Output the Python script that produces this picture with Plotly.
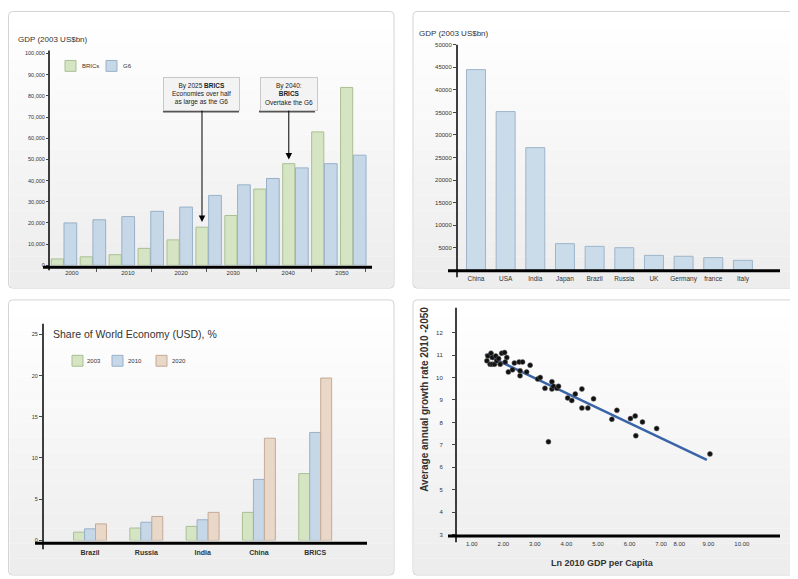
import plotly.graph_objects as go

# page body adds an 8px margin, so the figure is placed 8px in from the top-left corner
OFF = 8
W, H = 798 - OFF, 579 - OFF
def fx(px): return (px - OFF) / W
def fy(py): return 1 - (py - OFF) / H

# ---------------- data ----------------
years = [2000, 2005, 2010, 2015, 2020, 2025, 2030, 2035, 2040, 2045, 2050]
brics_gdp = [3000, 4000, 5000, 8000, 12000, 18000, 23500, 36000, 48000, 63000, 84000]
g6_gdp = [20000, 21500, 23000, 25500, 27500, 33000, 38000, 41000, 46000, 48000, 52000]
year_labels = ["2000", "2010", "2020", "2030", "2040", "2050"]

countries_2050 = ["China", "USA", "India", "Japan", "Brazil", "Russia", "UK", "Germany", "france", "Italy"]
gdp_2050 = [44500, 35200, 27200, 5900, 5300, 5000, 3300, 3100, 2800, 2200]

share_cats = ["Brazil", "Russia", "India", "China", "BRICS"]
share_2003 = [1.0, 1.5, 1.7, 3.4, 8.1]
share_2010 = [1.4, 2.2, 2.5, 7.4, 13.1]
share_2020 = [2.0, 2.9, 3.4, 12.4, 19.7]

ln_gdp_pc = [1.48, 1.51, 1.58, 1.61, 1.65, 1.65, 1.72, 1.76, 1.79, 1.85, 1.90, 1.95, 2.04, 2.06, 2.11,
             2.16, 2.29, 2.35, 2.50, 2.53, 2.53, 2.61, 2.74, 2.85, 3.09, 3.17, 3.32, 3.43, 3.54, 3.54,
             3.59, 3.70, 3.75, 4.04, 4.17, 4.28, 4.49, 4.49, 4.68, 4.86, 5.44, 5.60, 6.03, 6.18, 6.20,
             6.41, 6.86, 8.55]
growth = [10.74, 10.96, 10.59, 11.08, 10.89, 10.59, 10.59, 10.96, 10.74, 10.84, 10.59, 11.08, 11.11, 10.69, 10.89,
          10.25, 10.34, 10.64, 10.69, 10.30, 10.08, 10.69, 10.25, 10.55, 9.93, 10.0, 9.52, 7.14, 9.81, 9.49,
          9.61, 9.52, 9.61, 9.09, 8.98, 9.27, 9.49, 8.64, 8.64, 9.05, 8.14, 8.54, 8.17, 8.29, 7.41,
          8.02, 7.73, 6.60]
trend_x = [1.42, 8.45]
trend_y = [11.03, 6.33]
p4_tickvals = [1, 2, 3, 4, 5, 6, 7, 7.58, 8.5, 9.56]
p4_ticktext = ["1.00", "2.00", "3.00", "4.00", "5.00", "6.00", "7.00", "8.00", "9.00", "10.00"]

# ---------------- styles ----------------
FONT = "Liberation Sans, Arial, sans-serif"
TXT = "#333333"
GREEN, GREEN_L = "#d5e5c3", "#a9bf93"
BLUE, BLUE_L = "#c6d8e8", "#98b0c8"
TAN, TAN_L = "#e9d7c8", "#c4aa96"

fig = go.Figure()

# Panel 1 bars
fig.add_trace(go.Bar(x=years, y=brics_gdp, offset=-2.15, width=2.1, marker=dict(color=GREEN, line=dict(color=GREEN_L, width=1)),
                     xaxis="x", yaxis="y", showlegend=False, name="BRICs"))
fig.add_trace(go.Bar(x=years, y=g6_gdp, offset=0.05, width=2.2, marker=dict(color=BLUE, line=dict(color=BLUE_L, width=1)),
                     xaxis="x", yaxis="y", showlegend=False, name="G6"))
# Panel 2 bars
fig.add_trace(go.Bar(x=countries_2050, y=gdp_2050, offset=-0.32, width=0.64,
                     marker=dict(color="#cadbe9", line=dict(color="#9fb5ca", width=1)),
                     xaxis="x2", yaxis="y2", showlegend=False, name="GDP 2050"))
# Panel 3 bars
for vals, off, c, cl, nm in [(share_2003, -0.2925, GREEN, GREEN_L, "2003"),
                             (share_2010, -0.0975, BLUE, BLUE_L, "2010"),
                             (share_2020, 0.0975, TAN, TAN_L, "2020")]:
    fig.add_trace(go.Bar(x=share_cats, y=vals, offset=off, width=0.195,
                         marker=dict(color=c, line=dict(color=cl, width=1)),
                         xaxis="x3", yaxis="y3", showlegend=False, name=nm))
# Panel 4 scatter + trend
fig.add_trace(go.Scatter(x=trend_x, y=trend_y, mode="lines", line=dict(color="#3a64a8", width=2.5),
                         xaxis="x4", yaxis="y4", showlegend=False))
fig.add_trace(go.Scatter(x=ln_gdp_pc, y=growth, mode="markers",
                         marker=dict(color="#111111", size=5, line=dict(color="#666666", width=0.5)),
                         xaxis="x4", yaxis="y4", showlegend=False))

tf = dict(family=FONT, size=6, color=TXT)
common = dict(showgrid=False, zeroline=False, showline=False)

layout = dict(
    width=W, height=H, margin=dict(l=0, r=0, t=0, b=0), autosize=False,
    paper_bgcolor="white", plot_bgcolor="rgba(0,0,0,0)", barmode="overlay",
    font=dict(family=FONT, color=TXT),
    # Panel 1
    xaxis=dict(domain=[fx(49), fx(372)], range=[1997.46, 2053.28], anchor="y",
               tickmode="array", tickvals=[2001.4, 2011.1, 2020.3, 2029.3, 2038.8, 2048.1], ticktext=year_labels,
               ticks="", tickfont=tf, ticklabelstandoff=3,
               minor=dict(tickvals=[2005.75, 2015.1, 2024.6, 2033.4, 2042.9, 2052.2], ticks="outside",
                          ticklen=6, tickcolor="#555", showgrid=False), **common),
    yaxis=dict(domain=[fy(265), fy(48)], range=[0, 101400], anchor="x",
               tickmode="array", tickvals=list(range(0, 100001, 10000)), tickformat=",",
               ticks="outside", ticklen=2, tickcolor="#444", tickfont=dict(family=FONT, size=5.5, color=TXT), **common),
    # Panel 2
    xaxis2=dict(domain=[fx(457), fx(780)], range=[-0.64, 10.25], anchor="y2", type="category",
                ticks="", tickfont=dict(family=FONT, size=6.5, color=TXT), ticklabelstandoff=3, **common),
    yaxis2=dict(domain=[fy(270), fy(42)], range=[0, 50040], anchor="x2",
                tickmode="array", tickvals=list(range(5000, 50001, 5000)), tickformat="d",
                ticks="outside", ticklen=3, tickcolor="#444", tickfont=dict(family=FONT, size=6, color=TXT), **common),
    # Panel 3
    xaxis3=dict(domain=[fx(43), fx(367)], range=[-0.835, 4.92], anchor="y3", type="category",
                ticks="", tickfont=dict(family=FONT, size=7, color=TXT, weight="bold"), ticklabelstandoff=7, **common),
    yaxis3=dict(domain=[fy(543), fy(324)], range=[0, 26.3], anchor="x3",
                tickmode="array", tickvals=[0, 5, 10, 15, 20, 25],
                ticks="outside", ticklen=3, tickcolor="#444", tickfont=dict(family=FONT, size=5.5, color=TXT), **common),
    # Panel 4
    xaxis4=dict(domain=[fx(456), fx(780)], range=[0.50, 10.77], anchor="y4",
                tickmode="array", tickvals=p4_tickvals, ticktext=p4_ticktext,
                ticks="", tickfont=dict(family=FONT, size=6, color=TXT), ticklabelstandoff=4, **common),
    yaxis4=dict(domain=[fy(538), fy(308)], range=[2.97, 13.1], anchor="x4",
                tickmode="array", tickvals=list(range(3, 13)),
                ticks="outside", ticklen=3, tickcolor="#444", tickfont=dict(family=FONT, size=6, color=TXT),
                ticklabelstandoff=8, **common),
)
fig.update_layout(**layout)

shapes = []

def rounded(x0, y0, x1, y1, r=4):
    X0, X1 = fx(x0), fx(x1)
    Y0, Y1 = fy(y0), fy(y1)
    rx, ry = r / W, r / H
    return (f"M {X0+rx},{Y0} L {X1-rx},{Y0} Q {X1},{Y0} {X1},{Y0-ry} L {X1},{Y1+ry} Q {X1},{Y1} {X1-rx},{Y1} "
            f"L {X0+rx},{Y1} Q {X0},{Y1} {X0},{Y1+ry} L {X0},{Y0-ry} Q {X0},{Y0} {X0+rx},{Y0} Z")

# panel frames (the left/top edges near the page corner sit at the figure border)
panels = [(8.5, 8.5, 394, 288), (413, 8.5, 797, 288), (8.5, 300, 394, 578), (413, 300, 797, 578)]
NB = 18
for (x0, y0, x1, y1) in panels:
    for i in range(NB):
        t = i / (NB - 1)
        g = int(round(255 - 18 * t))
        ya = y0 + 1 + (y1 - y0 - 2) * i / NB
        yb = y0 + 1 + (y1 - y0 - 2) * (i + 1) / NB
        shapes.append(dict(type="rect", xref="paper", yref="paper", x0=fx(x0 + 1), x1=fx(x1 - 1),
                           y0=fy(yb), y1=fy(ya), line=dict(width=0), fillcolor=f"rgb({g},{g},{g})", layer="below"))
    shapes.append(dict(type="path", xref="paper", yref="paper", path=rounded(x0, y0, x1, y1),
                       line=dict(color="#d4d4d4", width=1), layer="below"))

def vline(x, ya, yb, w=1.5):
    shapes.append(dict(type="line", xref="paper", yref="paper", x0=fx(x), x1=fx(x), y0=fy(ya), y1=fy(yb),
                       line=dict(color="black", width=w), layer="above"))

def hline(y, xa, xb, w=3):
    shapes.append(dict(type="line", xref="paper", yref="paper", x0=fx(xa), x1=fx(xb), y0=fy(y), y1=fy(y),
                       line=dict(color="black", width=w), layer="above"))

# axis lines
vline(49, 48, 270); hline(267, 43, 372)
vline(457, 42, 277); hline(270.5, 448, 780)
vline(43, 324, 552); hline(546, 35, 367)
vline(456, 308, 545); hline(538.5, 448, 780)

def swatch(xa, ya, xb, yb, c, cl):
    shapes.append(dict(type="rect", xref="paper", yref="paper", x0=fx(xa), x1=fx(xb), y0=fy(yb), y1=fy(ya),
                       fillcolor=c, line=dict(color=cl, width=1)))

# legends (panel 1 and 3)
swatch(65, 58, 76, 69, GREEN, GREEN_L)
swatch(106, 58, 117, 69, BLUE, BLUE_L)
swatch(72, 356, 83, 367, GREEN, GREEN_L)
swatch(112, 356, 123, 367, BLUE, BLUE_L)
swatch(156, 356, 167, 367, TAN, TAN_L)

# callout box shadows
shapes.append(dict(type="line", xref="paper", yref="paper", x0=fx(163), x1=fx(239), y0=fy(109.5), y1=fy(109.5),
                   line=dict(color="#555", width=2)))
shapes.append(dict(type="line", xref="paper", yref="paper", x0=fx(259), x1=fx(315), y0=fy(109.5), y1=fy(109.5),
                   line=dict(color="#555", width=2)))

annotations = []

def text(px, py, s, size, xanchor="left", bold=False, angle=0, color=TXT):
    annotations.append(dict(x=fx(px), y=fy(py), xref="paper", yref="paper", text=s, showarrow=False,
                            xanchor=xanchor, yanchor="middle", textangle=angle,
                            font=dict(family=FONT, size=size, color=color, weight="bold" if bold else "normal")))

text(16, 37, "GDP (2003 US$bn)", 8)
text(417, 31, "GDP (2003 US$bn)", 8)
text(51, 334, "Share of World Economy (USD), %", 10.5)
text(602, 566, "Ln 2010 GDP per Capita", 9, xanchor="center", bold=True)
text(425, 401, "Average annual growth rate 2010 -2050", 10, xanchor="center", bold=True, angle=-90)
text(80, 63.5, "BRICs", 6)
text(121, 63.5, "G6", 6)
text(85, 361.5, "2003", 6)
text(126, 361.5, "2010", 6)
text(170, 361.5, "2020", 6)

# callouts with arrows (panel 1)
def ydata_p1(px):
    return (265 - px) / 217 * 101400

annotations.append(dict(x=years[5] - 1.1, y=brics_gdp[5] + 2500, xref="x", yref="y",
                        ax=years[5] - 1.1, ay=ydata_p1(92), axref="x", ayref="y",
                        text="By 2025 <b>BRICS</b><br>Economies over half<br>as large as the G6",
                        showarrow=True, arrowhead=2, arrowsize=1.3, arrowwidth=1, arrowcolor="black",
                        bgcolor="#f3f3f3", bordercolor="#c8c8c8", borderwidth=1, borderpad=3,
                        width=69, height=26, align="center",
                        font=dict(family=FONT, size=6.5, color="#222")))
annotations.append(dict(x=years[8] - 1.1, y=brics_gdp[8] + 2000, xref="x", yref="y",
                        ax=years[8] - 1.1, ay=ydata_p1(92), axref="x", ayref="y",
                        text="By 2040:<br><b>BRICS</b><br>Overtake the G6",
                        showarrow=True, arrowhead=2, arrowsize=1.3, arrowwidth=1, arrowcolor="black",
                        bgcolor="#f3f3f3", bordercolor="#c8c8c8", borderwidth=1, borderpad=3,
                        width=50, height=26, align="center",
                        font=dict(family=FONT, size=6.5, color="#222")))

fig.update_layout(shapes=shapes, annotations=annotations)
fig.write_html("out.html")
